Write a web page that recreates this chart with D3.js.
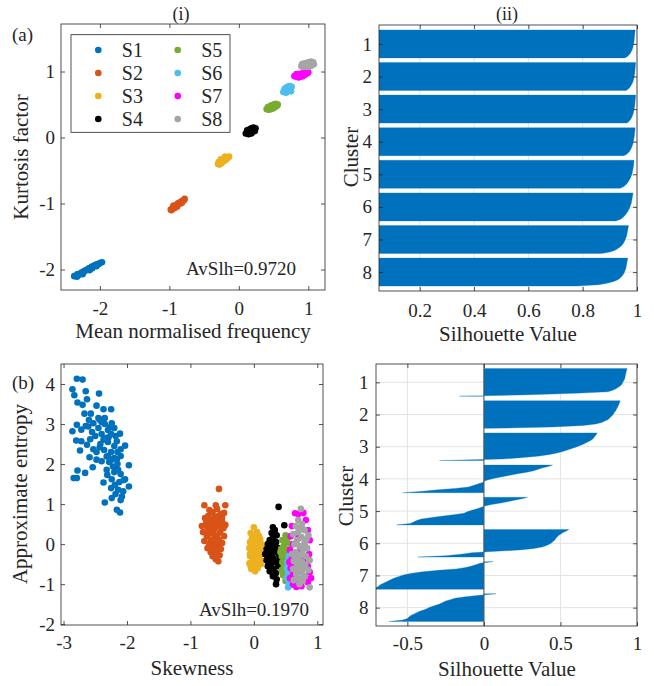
<!DOCTYPE html>
<html>
<head>
<meta charset="utf-8">
<script src="https://cdn.jsdelivr.net/npm/d3@7"></script>
<style>
body { margin: 0; background: #fff; }
</style>
</head>
<body>
<div id="figure"></div>
<script>
// ---- data ----
var seriesNames = ["S1", "S2", "S3", "S4", "S5", "S6", "S7", "S8"];
var seriesColors = ["#0072BD", "#D95319", "#EDB120", "#000000", "#77AC30", "#4DBEEE", "#FF00FF", "#A5A5A5"];
var clusters = [1, 2, 3, 4, 5, 6, 7, 8];

// (a) mean normalised frequency vs kurtosis factor
var freqKurtS1 = [[-2.37,-2.10],[-2.34,-2.09],[-2.32,-2.07],[-2.30,-2.08],[-2.28,-2.06],[-2.26,-2.04],[-2.24,-2.05],[-2.22,-2.02],[-2.20,-2.01],[-2.18,-2.00],[-2.16,-1.98],[-2.14,-1.99],[-2.12,-1.96],[-2.10,-1.95],[-2.08,-1.94],[-2.06,-1.93],[-2.04,-1.92],[-2.02,-1.92],[-2.00,-1.90],[-1.97,-1.89],[-2.25,-2.07],[-2.15,-2.01],[-2.05,-1.95],[-2.33,-2.11],[-2.11,-1.98]];
var freqKurtS2 = [[-0.98,-1.09],[-0.96,-1.08],[-0.95,-1.06],[-0.93,-1.07],[-0.92,-1.04],[-0.90,-1.03],[-0.89,-1.05],[-0.87,-1.01],[-0.86,-0.99],[-0.84,-1.00],[-0.83,-0.97],[-0.81,-0.96],[-0.79,-0.95],[-0.78,-0.93],[-0.94,-1.03],[-0.88,-1.00],[-0.82,-0.99],[-0.97,-1.10]];
var freqKurtS3 = [[-0.30,-0.40],[-0.28,-0.41],[-0.27,-0.37],[-0.25,-0.39],[-0.24,-0.35],[-0.22,-0.36],[-0.21,-0.32],[-0.19,-0.34],[-0.18,-0.30],[-0.16,-0.31],[-0.14,-0.29],[-0.26,-0.33],[-0.20,-0.29],[-0.29,-0.37]];
var freqKurtS4 = [[0.10,0.06],[0.12,0.08],[0.14,0.05],[0.16,0.07],[0.18,0.06],[0.20,0.09],[0.22,0.12],[0.24,0.14],[0.21,0.15],[0.18,0.14],[0.15,0.12],[0.12,0.11],[0.17,0.10],[0.23,0.10],[0.14,0.09]];
var freqKurtS5 = [[0.40,0.43],[0.43,0.42],[0.46,0.43],[0.49,0.44],[0.52,0.46],[0.55,0.48],[0.56,0.50],[0.53,0.51],[0.50,0.50],[0.47,0.49],[0.44,0.47],[0.42,0.46],[0.48,0.46],[0.53,0.48]];
var freqKurtS6 = [[0.64,0.69],[0.66,0.71],[0.68,0.68],[0.70,0.70],[0.72,0.72],[0.74,0.74],[0.76,0.77],[0.73,0.78],[0.70,0.77],[0.68,0.75],[0.66,0.74],[0.71,0.74],[0.75,0.70]];
var freqKurtS7 = [[0.80,0.93],[0.83,0.92],[0.86,0.91],[0.89,0.92],[0.92,0.93],[0.95,0.95],[0.98,0.97],[1.00,0.99],[0.97,1.00],[0.94,0.99],[0.90,0.97],[0.86,0.96],[0.83,0.96],[0.88,0.94],[0.93,0.96]];
var freqKurtS8 = [[0.90,1.08],[0.93,1.07],[0.96,1.08],[0.99,1.07],[1.02,1.08],[1.05,1.09],[1.08,1.11],[1.07,1.14],[1.04,1.15],[1.00,1.14],[0.97,1.13],[0.93,1.12],[0.91,1.11],[0.98,1.10],[1.03,1.12]];

// (b) skewness vs approximate entropy
var skewEntS1 = [[-2.79,4.13],[-2.70,4.11],[-2.86,3.87],[-2.65,3.82],[-2.83,3.72],[-2.44,3.76],[-2.78,3.54],[-2.63,3.62],[-2.70,3.48],[-2.48,3.46],[-2.37,3.37],[-2.25,3.37],[-2.67,3.26],[-2.57,3.26],[-2.86,2.82],[-2.79,2.98],[-2.72,2.86],[-2.61,2.94],[-2.53,3.02],[-2.43,3.11],[-2.35,3.15],[-2.24,3.02],[-2.11,2.76],[-2.80,2.59],[-2.72,2.57],[-2.74,2.34],[-2.63,2.48],[-2.53,2.37],[-2.43,2.42],[-2.37,2.61],[-2.29,2.67],[-2.16,2.57],[-2.03,2.46],[-2.10,2.37],[-2.59,2.17],[-2.48,2.11],[-2.40,2.07],[-2.54,1.92],[-2.32,2.19],[-2.24,2.11],[-2.16,2.12],[-1.97,1.97],[-2.66,1.78],[-2.78,1.84],[-2.84,1.65],[-2.79,1.65],[-2.32,1.86],[-2.22,1.94],[-2.14,1.86],[-2.31,1.73],[-2.37,1.54],[-2.24,1.62],[-2.03,1.62],[-2.19,1.48],[-1.97,1.44],[-2.25,1.40],[-2.14,1.36],[-2.06,1.32],[-2.24,1.15],[-2.08,1.19],[-2.35,1.04],[-2.16,0.86],[-2.11,0.79],[-2.45,2.90],[-2.40,2.75],[-2.30,2.85],[-2.35,3.00],[-2.50,2.70],[-2.55,2.80],[-2.20,2.90],[-2.25,2.75],[-2.30,2.55],[-2.20,2.45],[-2.15,2.30],[-2.25,2.30],[-2.30,2.20],[-2.20,2.15],[-2.10,2.20],[-2.15,2.00],[-2.20,1.80],[-2.10,1.75],[-2.05,1.60],[-2.60,3.10],[-2.65,2.95],[-2.45,3.15],[-2.40,3.05],[-2.33,2.65],[-2.42,2.50],[-2.48,2.30],[-2.36,2.35],[-2.28,2.05],[-2.12,1.55],[-2.18,1.25],[-2.10,1.10],[-2.58,2.62],[-2.27,2.92],[-2.18,2.70]];
var skewEntS2 = [[-0.55,1.38],[-0.78,0.97],[-0.60,0.97],[-0.45,0.97],[-0.47,0.78],[-0.70,0.85],[-0.65,0.80],[-0.58,0.88],[-0.52,0.75],[-0.72,0.70],[-0.62,0.68],[-0.55,0.62],[-0.68,0.60],[-0.75,0.55],[-0.50,0.55],[-0.60,0.52],[-0.66,0.48],[-0.73,0.42],[-0.56,0.45],[-0.48,0.40],[-0.62,0.38],[-0.70,0.33],[-0.80,0.30],[-0.53,0.30],[-0.65,0.27],[-0.58,0.22],[-0.74,0.20],[-0.47,0.20],[-0.62,0.15],[-0.68,0.10],[-0.55,0.10],[-0.78,0.08],[-0.60,0.05],[-0.50,0.03],[-0.70,0.00],[-0.64,-0.03],[-0.57,-0.06],[-0.73,-0.10],[-0.52,-0.12],[-0.62,-0.15],[-0.68,-0.20],[-0.58,-0.22],[-0.65,-0.30],[-0.60,-0.38],[-0.56,-0.43],[-0.82,0.45],[-0.45,0.48],[-0.77,0.65],[-0.66,0.35],[-0.56,0.70],[-0.69,-0.08],[-0.63,0.58],[-0.54,-0.28],[-0.72,0.25],[-0.50,0.66]];
var skewEntS3 = [[0.00,0.42],[0.05,0.30],[-0.05,0.28],[0.08,0.20],[-0.03,0.15],[0.10,0.12],[0.02,0.10],[-0.06,0.05],[0.06,0.02],[0.12,0.00],[-0.02,-0.03],[0.04,-0.08],[-0.07,-0.10],[0.10,-0.12],[0.00,-0.17],[-0.04,-0.22],[0.07,-0.20],[0.12,-0.25],[-0.06,-0.30],[0.02,-0.30],[0.09,-0.35],[-0.02,-0.40],[0.05,-0.45],[-0.07,-0.48],[0.11,-0.50],[0.00,-0.55],[-0.04,-0.62],[0.06,-0.60],[0.02,-0.68],[-0.06,-0.25],[0.03,0.22],[0.08,-0.05],[-0.05,-0.55],[0.10,-0.42]];
var skewEntS4 = [[0.39,0.93],[0.48,0.47],[0.30,0.42],[0.33,0.35],[0.28,0.28],[0.36,0.22],[0.30,0.15],[0.25,0.10],[0.35,0.05],[0.22,0.00],[0.30,-0.05],[0.38,-0.10],[0.20,-0.12],[0.27,-0.15],[0.33,-0.20],[0.18,-0.25],[0.24,-0.30],[0.40,-0.28],[0.30,-0.35],[0.20,-0.40],[0.35,-0.45],[0.27,-0.50],[0.22,-0.55],[0.38,-0.55],[0.31,-0.62],[0.25,-0.68],[0.35,-0.72],[0.30,-0.80],[0.36,-0.88],[0.35,-1.00],[0.26,-0.22],[0.32,0.00],[0.23,-0.45],[0.40,-0.38],[0.28,-0.60]];
var skewEntS5 = [[0.50,0.22],[0.55,0.18],[0.45,0.10],[0.52,0.05],[0.58,0.00],[0.47,-0.05],[0.43,-0.12],[0.53,-0.15],[0.48,-0.22],[0.44,-0.30],[0.55,-0.30],[0.50,-0.38],[0.45,-0.45],[0.52,-0.50],[0.47,-0.58],[0.55,-0.62],[0.50,-0.70],[0.46,-0.78],[0.53,-0.82],[0.50,-0.92],[0.42,-0.20],[0.57,-0.45],[0.49,-0.10],[0.44,-0.65]];
var skewEntS6 = [[0.55,-0.30],[0.60,-0.38],[0.53,-0.45],[0.58,-0.52],[0.52,-0.60],[0.57,-0.66],[0.54,-0.72],[0.60,-0.78],[0.52,-0.84],[0.57,-0.90],[0.55,-0.98],[0.60,-1.02],[0.54,-1.08],[0.58,-0.58]];
var skewEntS7 = [[0.65,0.77],[0.70,0.75],[0.78,0.78],[0.82,0.60],[0.60,0.45],[0.75,0.40],[0.85,0.35],[0.58,0.20],[0.70,0.15],[0.88,0.10],[0.62,0.00],[0.80,-0.05],[0.57,-0.15],[0.72,-0.20],[0.87,-0.25],[0.60,-0.35],[0.78,-0.40],[0.65,-0.50],[0.85,-0.55],[0.58,-0.60],[0.75,-0.65],[0.88,-0.70],[0.62,-0.75],[0.80,-0.80],[0.57,-0.85],[0.70,-0.90],[0.85,-0.95],[0.62,-1.00],[0.75,-1.05],[0.67,-1.07],[0.90,-0.85],[0.56,-0.45]];
var skewEntS8 = [[0.74,0.88],[0.70,0.60],[0.76,0.50],[0.66,0.45],[0.80,0.35],[0.70,0.30],[0.62,0.25],[0.86,0.22],[0.75,0.18],[0.68,0.10],[0.80,0.05],[0.64,0.00],[0.72,-0.05],[0.84,-0.10],[0.77,-0.15],[0.66,-0.20],[0.60,-0.25],[0.74,-0.28],[0.82,-0.30],[0.70,-0.35],[0.88,-0.40],[0.63,-0.42],[0.76,-0.45],[0.68,-0.50],[0.81,-0.52],[0.72,-0.60],[0.62,-0.62],[0.86,-0.65],[0.75,-0.70],[0.67,-0.75],[0.80,-0.80],[0.70,-0.85],[0.63,-0.90],[0.77,-0.92],[0.72,-1.00],[0.88,-1.08],[0.78,-0.05],[0.69,-0.68],[0.83,0.12],[0.65,-0.32],[0.79,-0.60],[0.73,0.38]];

// silhouette values per cluster, sorted high to low (top to bottom of each band)
var silhouetteA = [
    [0.993,0.993,0.992,0.992,0.991,0.991,0.990,0.990,0.989,0.988,0.987,0.986,0.985,0.983,0.981,0.978,0.975,0.970,0.965,0.955],
    [0.995,0.995,0.994,0.994,0.993,0.993,0.992,0.992,0.991,0.990,0.989,0.988,0.987,0.985,0.983,0.980,0.977,0.973,0.968,0.960],
    [0.995,0.995,0.994,0.994,0.993,0.993,0.992,0.992,0.991,0.990,0.989,0.988,0.987,0.985,0.983,0.981,0.978,0.974,0.970,0.963],
    [0.993,0.993,0.992,0.992,0.991,0.991,0.990,0.989,0.988,0.987,0.986,0.985,0.983,0.981,0.979,0.976,0.973,0.968,0.962,0.952],
    [0.989,0.989,0.988,0.988,0.987,0.986,0.985,0.984,0.983,0.982,0.980,0.978,0.976,0.973,0.970,0.966,0.962,0.957,0.950,0.938],
    [0.985,0.985,0.984,0.983,0.982,0.981,0.980,0.979,0.977,0.975,0.973,0.971,0.968,0.965,0.961,0.957,0.952,0.946,0.938,0.922],
    [0.969,0.968,0.967,0.966,0.965,0.964,0.963,0.962,0.960,0.958,0.956,0.953,0.950,0.946,0.941,0.935,0.927,0.917,0.900,0.870],
    [0.966,0.965,0.964,0.963,0.962,0.961,0.960,0.959,0.957,0.955,0.953,0.950,0.946,0.941,0.935,0.926,0.912,0.890,0.860,0.780]
];
var silhouetteB = [
    [0.935,0.933,0.930,0.928,0.926,0.924,0.922,0.920,0.915,0.910,0.905,0.900,0.890,0.875,0.860,0.840,0.810,0.600,0.300,-0.160],
    [0.890,0.887,0.884,0.880,0.875,0.870,0.865,0.860,0.852,0.848,0.840,0.830,0.820,0.810,0.790,0.770,0.730,0.650,0.450,0.050],
    [0.740,0.735,0.728,0.720,0.713,0.700,0.685,0.665,0.645,0.620,0.595,0.565,0.540,0.510,0.470,0.420,0.350,0.240,0.120,-0.290],
    [0.448,0.420,0.380,0.350,0.320,0.280,0.220,0.170,0.120,0.070,0.030,0.005,-0.010,-0.040,-0.070,-0.100,-0.190,-0.300,-0.400,-0.530],
    [0.285,0.250,0.200,0.160,0.110,0.050,0.005,-0.020,-0.050,-0.080,-0.110,-0.130,-0.200,-0.280,-0.350,-0.410,-0.440,-0.460,-0.480,-0.570],
    [0.555,0.540,0.520,0.505,0.490,0.480,0.470,0.465,0.455,0.445,0.430,0.410,0.380,0.330,0.250,0.080,-0.080,-0.150,-0.250,-0.430],
    [0.060,-0.020,-0.050,-0.080,-0.120,-0.180,-0.300,-0.400,-0.470,-0.520,-0.550,-0.580,-0.600,-0.620,-0.640,-0.660,-0.680,-0.690,-0.710,-0.730],
    [0.080,-0.030,-0.120,-0.190,-0.220,-0.250,-0.270,-0.290,-0.320,-0.350,-0.370,-0.390,-0.420,-0.440,-0.460,-0.480,-0.490,-0.500,-0.530,-0.620]
];

var freqKurt = [freqKurtS1, freqKurtS2, freqKurtS3, freqKurtS4, freqKurtS5, freqKurtS6, freqKurtS7, freqKurtS8];
var skewEnt = [skewEntS1, skewEntS2, skewEntS3, skewEntS4, skewEntS5, skewEntS6, skewEntS7, skewEntS8];

var fontName = "Liberation Serif";
var axisColor = "#262626";
var gridColor = "#e3e3e3";
var barColor = "#0072BD";
var tickLen = 4;
var markerR = 3.3;

var svg = d3.select("#figure")
    .append("svg")
    .attr("width", 654)
    .attr("height", 686)
    .attr("font-family", fontName);

// draws box + inward ticks on 4 sides; labels only on bottom and left
function drawAxes(g, x, y, w, h, xticks, yticks, xpad, ypad) {
    g.append("g")
        .attr("transform", "translate(0," + h + ")")
        .call(d3.axisBottom(x).tickValues(xticks).tickSize(-tickLen).tickPadding(xpad).tickFormat(minusFmt))
        .call(styleAxis);
    g.append("g")
        .call(d3.axisTop(x).tickValues(xticks).tickSize(-tickLen).tickFormat(""))
        .call(styleAxis);
    g.append("g")
        .call(d3.axisLeft(y).tickValues(yticks).tickSize(-tickLen).tickPadding(ypad).tickFormat(minusFmt))
        .call(styleAxis);
    g.append("g")
        .attr("transform", "translate(" + w + ",0)")
        .call(d3.axisRight(y).tickValues(yticks).tickSize(-tickLen).tickFormat(""))
        .call(styleAxis);
    g.append("rect")
        .attr("width", w)
        .attr("height", h)
        .attr("fill", "none")
        .attr("stroke", axisColor)
        .attr("stroke-width", 0.8);
}

function styleAxis(sel) {
    sel.attr("font-family", fontName).attr("font-size", 19);
    sel.select(".domain").remove();
    sel.selectAll("line").attr("stroke", axisColor).attr("stroke-width", 0.8);
    sel.selectAll("text").attr("fill", axisColor);
}

function minusFmt(d) {
    return d < 0 ? "-" + Math.abs(d) : String(d);
}

function addText(g, txt, x, y, size, anchor, rotate) {
    var t = g.append("text")
        .attr("x", x)
        .attr("y", y)
        .attr("text-anchor", anchor || "start")
        .attr("font-family", fontName)
        .attr("font-size", size)
        .attr("fill", axisColor)
        .text(txt);
    if (rotate) t.attr("transform", "rotate(-90," + x + "," + y + ")");
    return t;
}

// ---- scatter panel ----
function scatterPanel(left, top, w, h, xdom, ydom, data, xticks, yticks, xpad, ypad) {
    var g = svg.append("g").attr("transform", "translate(" + left + "," + top + ")");
    var x = d3.scaleLinear().domain(xdom).range([0, w]);
    var y = d3.scaleLinear().domain(ydom).range([h, 0]);

    data.forEach(function(pts, i) {
        g.append("g").selectAll("circle")
            .data(pts)
            .enter()
            .append("circle")
                .attr("cx", function(d) { return x(d[0]); })
                .attr("cy", function(d) { return y(d[1]); })
                .attr("r", markerR)
                .attr("fill", seriesColors[i]);
    });
    drawAxes(g, x, y, w, h, xticks, yticks, xpad, ypad);
    return g;
}

// ---- silhouette panel ----
function silhouettePanel(left, top, w, h, xdom, ydom, values, xticks, xpad, ypad, clipId, zeroLine) {
    var g = svg.append("g").attr("transform", "translate(" + left + "," + top + ")");
    var x = d3.scaleLinear().domain(xdom).range([0, w]);
    var y = d3.scaleLinear().domain(ydom).range([0, h]);

    g.append("clipPath").attr("id", clipId)
        .append("rect").attr("width", w).attr("height", h);

    // grid
    var grid = g.append("g");
    grid.selectAll("line.gx")
        .data(xticks)
        .enter()
        .append("line")
            .attr("x1", function(d) { return x(d); })
            .attr("x2", function(d) { return x(d); })
            .attr("y1", 0)
            .attr("y2", h)
            .attr("stroke", gridColor);
    grid.selectAll("line.gy")
        .data(clusters)
        .enter()
        .append("line")
            .attr("x1", 0)
            .attr("x2", w)
            .attr("y1", function(d) { return y(d); })
            .attr("y2", function(d) { return y(d); })
            .attr("stroke", gridColor);

    var half = 0.43;
    var area = d3.area()
        .x0(x(0))
        .x1(function(d) { return x(d.v); })
        .y(function(d) { return y(d.p); });

    var bars = g.append("g").attr("clip-path", "url(#" + clipId + ")");
    values.forEach(function(vals, ci) {
        var c = clusters[ci];
        var n = vals.length;
        var pts = vals.map(function(v, i) { return { v: v, p: c - half + i * (2 * half) / (n - 1) }; });
        bars.append("path")
            .datum(pts)
            .attr("d", area)
            .attr("fill", barColor)
            .attr("stroke", barColor)
            .attr("stroke-width", 0.3);
    });

    if (zeroLine) {
        g.append("line")
            .attr("x1", x(0)).attr("x2", x(0))
            .attr("y1", 0).attr("y2", h)
            .attr("stroke", "#555")
            .attr("stroke-width", 1);
    }

    drawAxes(g, x, y, w, h, xticks, clusters, xpad, ypad);
    return g;
}

// panel (a)(i)
var gA = scatterPanel(61, 24, 264, 266, [-2.56, 1.24], [-2.31, 1.72], freqKurt,
    [-2, -1, 0, 1], [-2, -1, 0, 1], 12, 6);
addText(gA, "AvSlh=0.9720", 125, 251, 19, "start");

// legend
var leg = gA.append("g").attr("transform", "translate(10,10.7)");
leg.append("rect")
    .attr("width", 159)
    .attr("height", 97.6)
    .attr("fill", "#fff")
    .attr("stroke", axisColor)
    .attr("stroke-width", 0.8);
seriesNames.forEach(function(name, i) {
    var col = Math.floor(i / 4);
    var row = i % 4;
    var mx = col === 0 ? 27.3 : 106.7;
    var ty = 15.3 + row * 23;
    leg.append("circle")
        .attr("cx", mx)
        .attr("cy", ty)
        .attr("r", markerR)
        .attr("fill", seriesColors[i]);
    addText(leg, name, mx + 23.5, ty + 6.8, 20, "start");
});

// panel (b)(i)
var gC = scatterPanel(61, 364, 262, 261, [-3.04, 1.09], [-2.02, 4.5], skewEnt,
    [-3, -2, -1, 0, 1], [-2, -1, 0, 1, 2, 3, 4], 11, 6);
addText(gC, "AvSlh=0.1970", 138, 252, 19, "start");

// panel (a)(ii)
silhouettePanel(379, 25, 258, 266, [0.05, 1], [0.42, 8.58], silhouetteA,
    [0.2, 0.4, 0.6, 0.8, 1], 13, 7, "clipA", false);

// panel (b)(ii)
silhouettePanel(376, 364, 261, 262, [-0.705, 1], [0.43, 8.57], silhouetteB,
    [-0.5, 0, 0.5, 1], 11, 7.5, "clipB", true);

// titles and axis labels
addText(svg, "(i)", 181, 20, 18, "middle");
addText(svg, "(ii)", 507, 20, 18, "middle");
addText(svg, "(a)", 12, 41, 19, "start");
addText(svg, "(b)", 12, 389, 19, "start");

addText(svg, "Mean normalised frequency", 193, 338, 21, "middle");
addText(svg, "Silhouette Value", 508, 341, 21, "middle");
addText(svg, "Skewness", 192, 675, 21, "middle");
addText(svg, "Silhouette Value", 507, 676, 21, "middle");

addText(svg, "Kurtosis factor", 28, 157, 21, "middle", true);
addText(svg, "Approximate entropy", 27, 494, 21, "middle", true);
addText(svg, "Cluster", 358, 157, 21, "middle", true);
addText(svg, "Cluster", 353, 496, 21, "middle", true);
</script>
</body>
</html>
